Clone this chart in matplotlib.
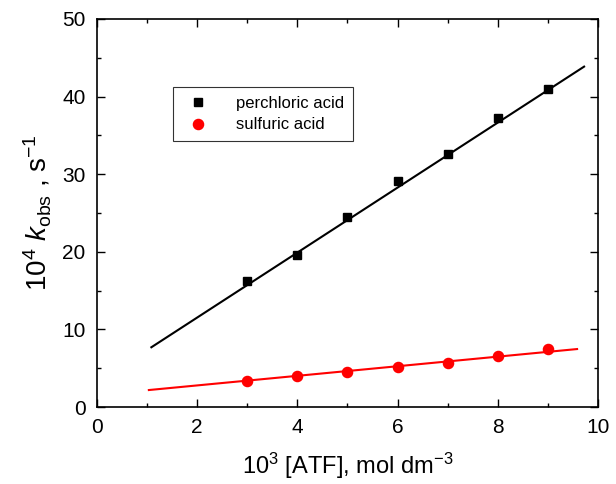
import matplotlib

matplotlib.use("Agg")
import matplotlib.pyplot as plt
from matplotlib.ticker import MultipleLocator

plt.rcParams["font.family"] = ["Liberation Sans", "DejaVu Sans"]
plt.rcParams["mathtext.fontset"] = "custom"
plt.rcParams["mathtext.rm"] = "Liberation Sans"
plt.rcParams["mathtext.it"] = "Liberation Sans:italic"

# measured points
atf = [3, 4, 5, 6, 7, 8, 9]
k_perchloric = [16.2, 19.6, 24.5, 29.1, 32.6, 37.2, 41.0]
k_sulfuric = [3.3, 4.0, 4.5, 5.1, 5.7, 6.6, 7.5]

# fitted lines (endpoints)
fit_x_perchloric = [1.09, 9.72]
fit_y_perchloric = [7.7, 43.85]
fit_x_sulfuric = [1.04, 9.58]
fit_y_sulfuric = [2.19, 7.47]

fig = plt.figure(figsize=(6.16, 4.84), dpi=100)
ax = fig.add_axes([0.157, 0.159, 0.814, 0.802])

ax.plot(fit_x_perchloric, fit_y_perchloric, color="black", linewidth=1.5)
ax.plot(fit_x_sulfuric, fit_y_sulfuric, color="red", linewidth=1.5)
ax.plot(atf, k_perchloric, linestyle="none", marker="s", markersize=6.3,
        color="black", label="perchloric acid")
ax.plot(atf, k_sulfuric, linestyle="none", marker="o", markersize=7.3,
        color="red", label="sulfuric acid")

ax.set_xlim(0, 10)
ax.set_ylim(0, 50)
ax.xaxis.set_major_locator(MultipleLocator(2))
ax.xaxis.set_minor_locator(MultipleLocator(1))
ax.yaxis.set_major_locator(MultipleLocator(10))
ax.yaxis.set_minor_locator(MultipleLocator(5))
ax.tick_params(which="both", direction="in", top=True, right=True,
               labeltop=False, labelright=False, width=1)
ax.tick_params(which="major", length=6, labelsize=15, pad=8)
ax.tick_params(which="minor", length=3)
for spine in ax.spines.values():
    spine.set_linewidth(1.2)

ax.set_xlabel(r"10$^{3}$ [ATF], mol dm$^{-3}$", fontsize=17, labelpad=10)
ax.set_ylabel(r"10$^{4}$ $\mathit{k}_{\rm obs}$ , s$^{-1}$", fontsize=20, labelpad=6)

leg = ax.legend(loc="upper left", bbox_to_anchor=(0.135, 0.845), fontsize=12,
                frameon=True, fancybox=False, edgecolor="black",
                handletextpad=1.3, borderpad=0.5, labelspacing=0.4)
leg.get_frame().set_linewidth(0.8)

fig.savefig("out.png", dpi=100)
